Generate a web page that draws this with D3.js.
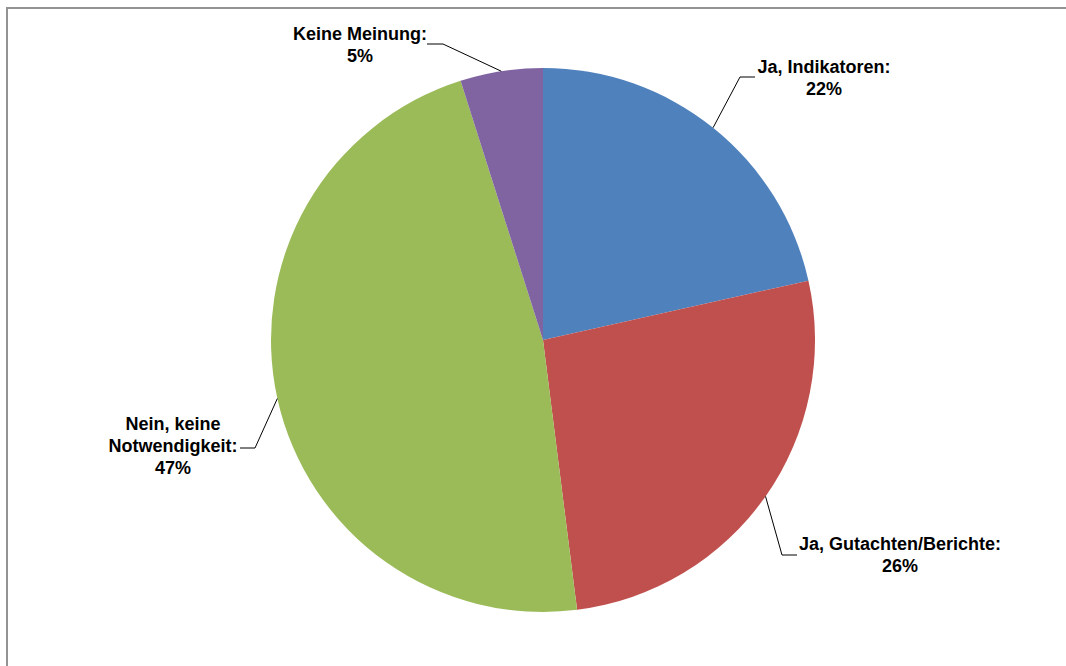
<!DOCTYPE html>
<html>
<head>
<meta charset="utf-8">
<script src="https://cdn.jsdelivr.net/npm/d3@7"></script>
<style>
  html, body { margin: 0; padding: 0; background: #fff; }
  svg { display: block; }
  text { font-family: "Liberation Sans", Arial, sans-serif; font-weight: bold; font-size: 18px; fill: #000; }
</style>
</head>
<body>
<svg id="chart" width="1066" height="666"></svg>
<script>
// Data
const categories = ["Ja, Indikatoren:", "Ja, Gutachten/Berichte:", "Nein, keine Notwendigkeit:", "Keine Meinung:"];
const values = [21.5, 26.5, 47.1, 4.9];
const pctLabels = ["22%", "26%", "47%", "5%"];
const colors = ["#4F81BD", "#C0504D", "#9BBB59", "#8064A2"];
// label text lines (as shown)
const labelLines = [
  ["Ja, Indikatoren:"],
  ["Ja, Gutachten/Berichte:"],
  ["Nein, keine", "Notwendigkeit:"],
  ["Keine Meinung:"]
];

// Layout
const W = 1066, H = 666;
const cx = 543, cy = 340, R = 272;
// label anchor (text center x, first baseline y) and leader elbow points
const labelLayout = [
  { x: 824, y: 73, elbow: [[740, 77], [755, 77]] },
  { x: 900, y: 550, elbow: [[782, 555], [797, 555]] },
  { x: 173, y: 430, elbow: [[255, 448], [240, 448]] },
  { x: 360, y: 40, elbow: [[443, 44], [427, 44]] }
];
const lineH = 22;

const svg = d3.select("#chart");

// outer border
svg.append("rect")
  .attr("x", 7).attr("y", 8)
  .attr("width", W + 10).attr("height", H + 10)
  .attr("fill", "none")
  .attr("stroke", "#939393")
  .attr("stroke-width", 2);

const data = categories.map((c, i) => ({ cat: c, value: values[i], pct: pctLabels[i], color: colors[i], lines: labelLines[i], lay: labelLayout[i] }));

const pie = d3.pie().sort(null).value(d => d.value).startAngle(0).endAngle(2 * Math.PI);
const arcs = pie(data);
const arc = d3.arc().innerRadius(0).outerRadius(R);

const g = svg.append("g").attr("transform", `translate(${cx},${cy})`);
g.selectAll("path.slice")
  .data(arcs)
  .join("path")
  .attr("class", "slice")
  .attr("d", arc)
  .attr("fill", d => d.data.color);

// leader lines and labels
arcs.forEach(a => {
  const mid = (a.startAngle + a.endAngle) / 2;
  const px = cx + R * Math.sin(mid);
  const py = cy - R * Math.cos(mid);
  const pts = [[px, py], ...a.data.lay.elbow];
  svg.append("path")
    .attr("d", d3.line()(pts))
    .attr("fill", "none")
    .attr("stroke", "#000")
    .attr("stroke-width", 1);

  const t = svg.append("text")
    .attr("text-anchor", "middle")
    .attr("x", a.data.lay.x)
    .attr("y", a.data.lay.y);
  const lines = a.data.lines.concat([a.data.pct]);
  lines.forEach((ln, k) => {
    t.append("tspan")
      .attr("x", a.data.lay.x)
      .attr("dy", k === 0 ? 0 : lineH)
      .text(ln);
  });
});
</script>
</body>
</html>
